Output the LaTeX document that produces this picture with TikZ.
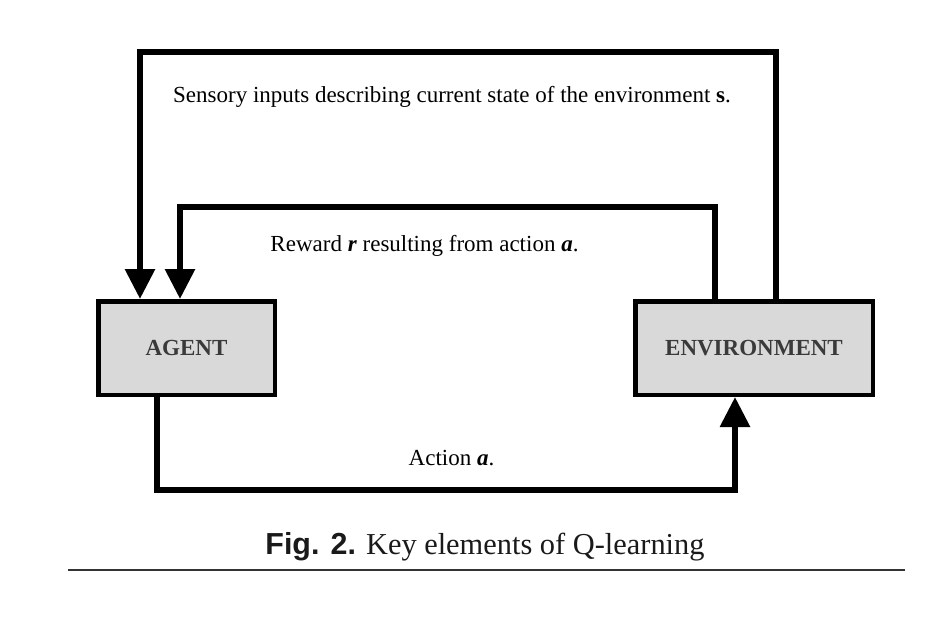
\documentclass[tikz,border=0pt]{standalone}
\usepackage{fontspec}
\setmainfont{Liberation Serif}
\setsansfont{Liberation Sans}
\usetikzlibrary{arrows.meta}
\definecolor{boxfill}{HTML}{D9D9D9}
\definecolor{boxtext}{HTML}{3A3A3A}
\definecolor{captext}{HTML}{1A1A1A}
\definecolor{rulegray}{HTML}{333333}
\begin{document}
\begin{tikzpicture}[x=1pt,y=-1pt,
  blockbox/.style={draw=black,fill=boxfill,line width=4.5pt,inner sep=0pt,
    minimum height=93.5pt,text=boxtext,font=\fontsize{23}{27}\selectfont\bfseries},
  flow/.style={line width=6pt,line join=miter},
  flowarrow/.style={flow,-{Triangle[length=30pt,width=29pt]}},
  lbl/.style={inner sep=0pt,font=\fontsize{23}{27}\selectfont}]
\useasboundingbox (0,0) rectangle (940,618);
\node[blockbox,minimum width=176.5pt] (agent) at (186.5,348) {AGENT};
\node[blockbox,minimum width=237.5pt] (env) at (754,348) {ENVIRONMENT};
\coordinate (oR) at (776,52);
\coordinate (oL) at (140,52);
\coordinate (iR) at (715,207);
\coordinate (iL) at (180,207);
\coordinate (bL) at (157,490);
\coordinate (bR) at (735,490);
\draw[flowarrow] (env.north -| oR) -- (oR) -- (oL) -- (agent.north -| oL);
\draw[flowarrow] (env.north -| iR) -- (iR) -- (iL) -- (agent.north -| iL);
\draw[flowarrow] (agent.south -| bL) -- (bL) -- (bR) -- (env.south -| bR);
\node[lbl] (sens) at (452,97) {Sensory inputs describing current state of the environment \textbf{s}.};
\node[lbl] (rew) at (424.5,246) {Reward \textbf{\textit{r}} resulting from action \textbf{\textit{a}}.};
\node[lbl] (act) at (451.5,458) {Action \textbf{\textit{a}}.};
\node[inner sep=0pt,text=captext] (cap) at (485,547) {{\fontsize{30.4}{34}\selectfont\sffamily\bfseries Fig. 2.}\hspace{10pt}{\fontsize{30.4}{34}\selectfont Key elements of Q-learning}};
\coordinate (r1) at (68,570);
\coordinate (r2) at (905,570);
\draw[rulegray,line width=1.5pt] (r1) -- (r2);
\end{tikzpicture}
\end{document}
